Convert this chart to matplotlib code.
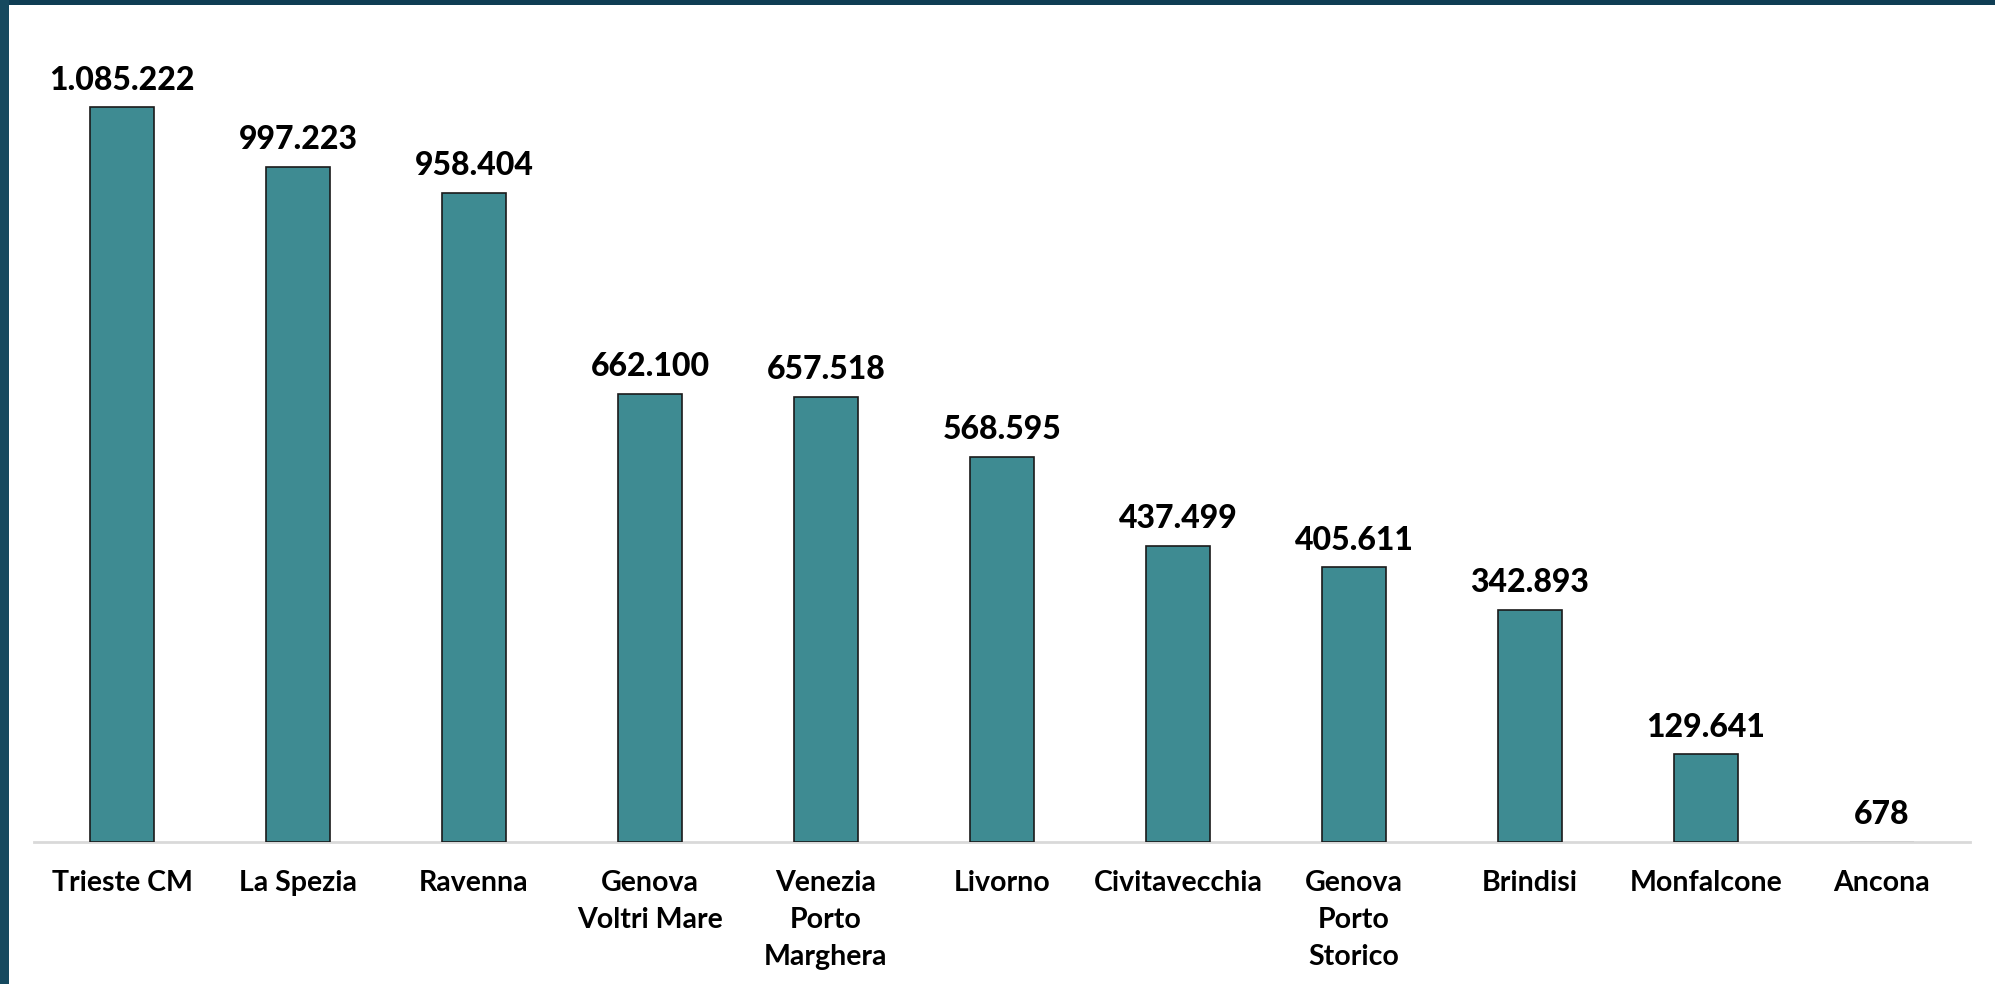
import matplotlib
matplotlib.use("Agg")
import matplotlib.pyplot as plt
from matplotlib.patches import Rectangle

categories = ["Trieste CM", "La Spezia", "Ravenna", "Genova\nVoltri Mare",
              "Venezia\nPorto\nMarghera", "Livorno", "Civitavecchia",
              "Genova\nPorto\nStorico", "Brindisi", "Monfalcone", "Ancona"]
values = [1085222, 997223, 958404, 662100, 657518, 568595, 437499,
          405611, 342893, 129641, 678]

W, H = 1995, 984
fig = plt.figure(figsize=(W / 100, H / 100), dpi=100)
fig.patch.set_facecolor("white")

x0, x1 = 34, 1970
yb, yt = 842, 20
ax = fig.add_axes([x0 / W, 1 - yb / H, (x1 - x0) / W, (yb - yt) / H])

bar_color = "#3E8B92"
xs = list(range(len(categories)))
bars = ax.bar(xs, values, width=0.36, color=bar_color,
              edgecolor="#1a1a1a", linewidth=1.2, zorder=3)
bars[-1].set_edgecolor("#cfcfcf")

ymax = (yb - yt) / (842 - 107) * values[0]
ax.set_ylim(0, ymax)
ax.set_xlim(-0.5, len(categories) - 0.5)

font = "Lato"
for x, v in zip(xs, values):
    label = f"{v:,}".replace(",", ".")
    ax.annotate(label, (x, v), xytext=(0, 9), textcoords="offset points",
                ha="center", va="bottom", fontsize=23, fontweight=900,
                family=[font], color="black")

ax.set_xticks(xs)
ax.set_xticklabels(categories, fontsize=20.5, fontweight="bold", family=[font],
                   linespacing=1.52, va="top")
ax.tick_params(axis="x", length=0, pad=20)
ax.set_yticks([])
for s in ["top", "right", "left"]:
    ax.spines[s].set_visible(False)
ax.spines["bottom"].set_color("#D9D9D9")
ax.spines["bottom"].set_linewidth(2)
ax.spines["bottom"].set_zorder(2)

fig.patches.append(Rectangle((0, 1 - 5 / H), 1, 5 / H, transform=fig.transFigure,
                             facecolor="#0F3D54", edgecolor="none", zorder=10))
fig.patches.append(Rectangle((0, 0), 9 / W, 1, transform=fig.transFigure,
                             facecolor="#16495F", edgecolor="none", zorder=10))

fig.savefig("out.png", dpi=100, facecolor="white")
